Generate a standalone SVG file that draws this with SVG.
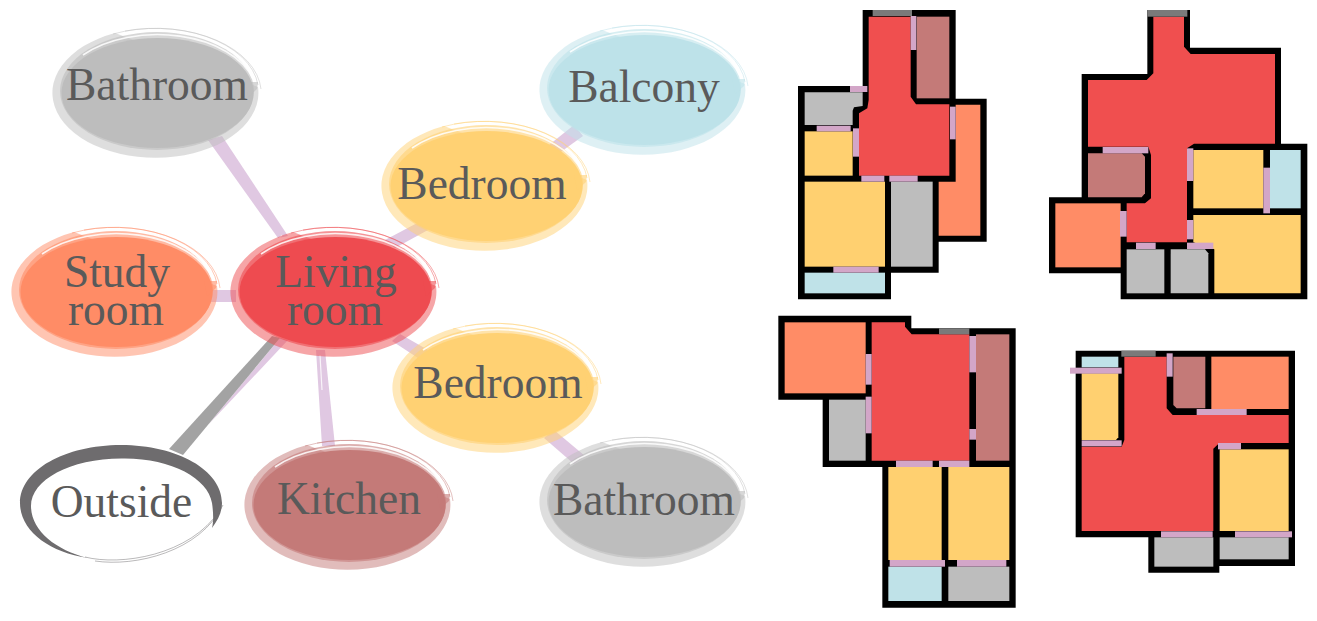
<svg xmlns="http://www.w3.org/2000/svg" width="1317" height="621" viewBox="0 0 1317 621">
<style>
text{font-family:"Liberation Serif","Times New Roman",serif;font-size:45.5px;fill:#5a5a5a;text-anchor:middle}
.living{color:#ee4b50}.study{color:#ff8c66}.kitchen{color:#c47a78}.bed{color:#ffd173}.balcony{color:#bde2e9}.bath{color:#bdbdbd}.outside{color:#6e6c6e}
.band{fill:currentColor;fill-opacity:.5}
.soft{fill:currentColor;fill-opacity:.6}
.core{fill:currentColor}
.rim{fill:none;stroke:currentColor;stroke-width:.8;stroke-opacity:.6}
.shine{fill:none;stroke:#fff;stroke-width:1.6;stroke-opacity:.85}
.link{fill:#e0c8e2}
.ext{fill:#a3a3a3}
.slit{fill:none;stroke:#fff;stroke-width:1.2;stroke-opacity:.8}
.wall{fill:#000}
.r{fill:#f04f4f}.k{fill:#c47a78}.s{fill:#ff8c66}.b{fill:#ffd070}.g{fill:#bdbdbd}.y{fill:#bfe2e8}.d{fill:#d3a6c8}.e{fill:#7a7a7a}
</style>
<defs>
<g id="blob">
<path class="band" d="M103,-6A103,65 0 1 1 -40,-60Z"/>
<ellipse class="soft" cx="2" cy="-2" rx="97" ry="59"/>
<ellipse class="core" cx="2.5" cy="0" rx="96" ry="55"/>
<path class="soft" d="M90,-11H103L102,-4L93,4Z"/>
<path class="shine" d="M-72,-38A99,60 0 0 1 98,-14"/>
<path class="rim" d="M-42,-59A103,63 0 0 1 103,-8"/>
<path class="rim" d="M-30,-62A106,65 0 0 1 106,-4"/>
</g>
</defs>
<g id="connectors">
<polygon class="link" points="208,140 222,136 288,236 278,238"/>
<polygon class="link" points="210,290 236,290 236,302 210,302"/>
<polygon class="link" points="385,240 421,221 428,230 395,248"/>
<polygon class="link" points="549,145 574,125 583,136 558,154"/>
<polygon class="link" points="392,341 400,334 428,350 418,358"/>
<polygon class="link" points="544,438 554,430 585,456 574,464"/>
<polygon class="link" points="316,350 325,350 335,446 322,446"/>
<polygon class="link" points="280,338 288,340 208,425"/>
<polygon class="ext" points="272,336 280,338 183,455 169,449"/>
<path class="slit" d="M258,265 L282,235M320,355L322,390"/>
</g>
<g id="node-bathroom-1" class="bath"><use href="#blob" x="155" y="93"/><text x="157" y="100">Bathroom</text></g>
<g id="node-balcony" class="balcony"><use href="#blob" x="642" y="90"/><text x="644" y="102">Balcony</text></g>
<g id="node-bedroom-1" class="bed"><use href="#blob" x="484" y="186"/><text x="482" y="199">Bedroom</text></g>
<g id="node-study" class="study"><use href="#blob" x="114" y="292"/><text x="117" y="287">Study</text><text x="116" y="325">room</text></g>
<g id="node-living" class="living"><use href="#blob" x="333" y="292"/><text x="336" y="287">Living</text><text x="335" y="325">room</text></g>
<g id="node-bedroom-2" class="bed"><use href="#blob" x="495" y="388"/><text x="498" y="398">Bedroom</text></g>
<g id="node-bathroom-2" class="bath"><use href="#blob" x="642" y="502"/><text x="644" y="515">Bathroom</text></g>
<g id="node-kitchen" class="kitchen"><use href="#blob" x="347" y="505"/><text x="349" y="514">Kitchen</text></g>
<g id="node-outside" class="outside">
<path class="core" d="M88,558C48,552 20,530 20,503C20,470 65,445 121,445C177,445 222,470 222,503C222,512 218,520 212,528C214,520 213,510 212,503C208,478 170,457.5 121.5,458.5C70,458.5 31,480 31,506C31,530 55,550 88,558Z"/>
<path class="rim" d="M85,557C120,566 190,556 220,510"/>
<path class="rim" d="M95,561C135,567 200,552 223,505"/>
<text x="121.5" y="517">Outside</text>
</g>
<g id="plan-1" transform="translate(780,0) scale(.33333)">
<polygon class="wall" points="248,30 527,30 527,296 620,296 620,725 476,725 476,818 333,818 333,898 54,898 54,258 248,258"/>
<polygon class="r" points="266,50 392,50 392,290 408,313 508,313 508,527 237,527 237,340 262,325 266,300"/>
<rect class="k" x="410" y="50" width="98" height="245"/>
<polygon class="g" points="74,277 248,277 248,318 222,322 218,332 218,375 74,375"/>
<rect class="b" x="74" y="394" width="144" height="133"/>
<rect class="b" x="74" y="545" width="241" height="255"/>
<rect class="g" x="333" y="545" width="125" height="255"/>
<polygon class="s" points="527,314 601,314 601,707 476,707 476,545 527,545"/>
<rect class="y" x="74" y="818" width="241" height="62"/>
<rect class="e" x="278" y="30" width="118" height="18"/>
<rect class="d" x="392" y="48" width="17" height="102"/>
<rect class="d" x="210" y="258" width="52" height="18"/>
<rect class="d" x="510" y="320" width="17" height="98"/>
<rect class="d" x="110" y="377" width="102" height="17"/>
<rect class="d" x="219" y="385" width="18" height="85"/>
<rect class="d" x="244" y="527" width="69" height="18"/>
<rect class="d" x="328" y="527" width="85" height="18"/>
<rect class="d" x="160" y="800" width="136" height="18"/>
</g>
<g id="plan-2" transform="translate(1040,0) scale(.33333)">
<polygon class="wall" points="322,30 450,30 450,143 723,143 723,431 802,431 802,898 242,898 242,820 27,820 27,592 125,592 125,222 322,222"/>
<polygon class="r" points="340,50 432,50 432,140 452,162 705,162 705,431 462,431 441,445 441,727 260,727 260,610 315,610 333,595 333,465 325,440 144,440 144,240 320,240 340,220"/>
<polygon class="k" points="144,460 305,460 315,470 315,580 305,592 144,592"/>
<rect class="s" x="46" y="610" width="196" height="192"/>
<rect class="b" x="460" y="450" width="210" height="175"/>
<rect class="y" x="690" y="450" width="92" height="175"/>
<polygon class="b" points="460,645 782,645 782,880 523,880 523,748 460,727"/>
<rect class="g" x="260" y="748" width="113" height="132"/>
<polygon class="g" points="392,748 495,748 505,760 505,880 392,880"/>
<rect class="e" x="322" y="30" width="120" height="20"/>
<rect class="d" x="188" y="441" width="137" height="19"/>
<rect class="d" x="441" y="445" width="19" height="98"/>
<rect class="d" x="670" y="503" width="20" height="137"/>
<rect class="d" x="240" y="633" width="20" height="77"/>
<rect class="d" x="441" y="660" width="19" height="58"/>
<rect class="d" x="288" y="728" width="59" height="19"/>
<rect class="d" x="441" y="728" width="79" height="19"/>
</g>
<g id="plan-3" transform="translate(770,310) scale(.33333)">
<polygon class="wall" points="25,17 424,17 424,55 737,55 737,893 337,893 337,471 158,471 158,269 25,269"/>
<polygon class="r" points="305,37 405,37 405,50 425,73 598,73 598,452 305,452"/>
<rect class="s" x="44" y="37" width="243" height="213"/>
<rect class="g" x="177" y="269" width="110" height="183"/>
<rect class="k" x="618" y="73" width="100" height="379"/>
<rect class="b" x="355" y="471" width="160" height="279"/>
<rect class="b" x="535" y="471" width="183" height="279"/>
<rect class="y" x="355" y="770" width="160" height="103"/>
<rect class="g" x="535" y="770" width="183" height="103"/>
<rect class="e" x="507" y="55" width="91" height="18"/>
<rect class="d" x="287" y="132" width="18" height="92"/>
<rect class="d" x="287" y="260" width="18" height="110"/>
<rect class="d" x="598" y="78" width="20" height="109"/>
<rect class="d" x="598" y="357" width="20" height="32"/>
<rect class="d" x="378" y="452" width="110" height="19"/>
<rect class="d" x="507" y="452" width="91" height="19"/>
<rect class="d" x="359" y="750" width="166" height="20"/>
<rect class="d" x="561" y="750" width="148" height="20"/>
</g>
<g id="plan-4" transform="translate(1060,340) scale(.33333)">
<polygon class="wall" points="47,32 705,32 705,678 478,678 478,698 265,698 265,592 47,592"/>
<polygon class="r" points="193,50 320,50 320,205 338,225 686,225 686,309 478,309 460,326 460,573 65,573 65,320 185,320 193,300"/>
<rect class="y" x="65" y="50" width="110" height="32"/>
<polygon class="b" points="65,100 175,100 175,292 168,300 65,300"/>
<polygon class="k" points="340,50 436,50 436,205 350,205 340,195"/>
<rect class="s" x="454" y="50" width="232" height="157"/>
<rect class="b" x="479" y="328" width="207" height="245"/>
<rect class="g" x="283" y="592" width="177" height="88"/>
<rect class="g" x="479" y="592" width="207" height="66"/>
<rect class="e" x="184" y="32" width="103" height="18"/>
<rect class="d" x="30" y="83" width="155" height="18"/>
<rect class="d" x="65" y="301" width="120" height="18"/>
<rect class="d" x="320" y="40" width="18" height="70"/>
<rect class="d" x="410" y="207" width="150" height="18"/>
<rect class="d" x="474" y="309" width="69" height="19"/>
<rect class="d" x="303" y="574" width="155" height="18"/>
<rect class="d" x="525" y="574" width="171" height="18"/>
</g>
</svg>
